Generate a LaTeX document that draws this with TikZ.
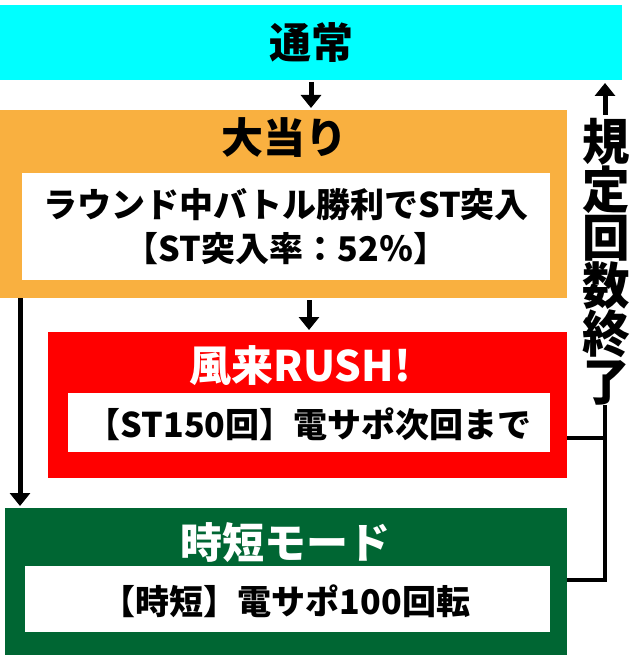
\documentclass[tikz,border=0pt]{standalone}
\usepackage{fontspec}
\setmainfont{Noto Sans CJK JP}
\usetikzlibrary{arrows.meta}
\definecolor{cy}{HTML}{00FFFF}
\definecolor{org}{HTML}{F9B040}
\definecolor{rd}{HTML}{FF0000}
\definecolor{gr}{HTML}{006633}
\begin{document}
\begin{tikzpicture}[x=1pt,y=-1pt,
  conn/.style={line width=5pt},
  arr/.style={conn,-{Triangle[length=13pt,width=20pt]}},
  ttl/.style={font=\bfseries\fontsize{42}{46}\selectfont,inner sep=0pt},
  txt/.style={font=\bfseries\fontsize{34}{44}\selectfont,align=center,inner sep=0pt}]
\useasboundingbox (0,0) rectangle (640,668);
\fill[cy] (0,5) rectangle (622,80);
\node[ttl] (t1) at (311,43) {通常};
\fill[org] (0,110) rectangle (567,298);
\fill[white] (22,173) rectangle (550,280);
\node[ttl] (t2) at (284,138) {大当り};
\node[txt] (x2) at (286,227) {ラウンド中バトル勝利でST突入\\【ST突入率：52％】};
\fill[rd] (48,332) rectangle (567,478);
\fill[white] (68,393) rectangle (550,452);
\node[ttl,white] (t3) at (300,366) {風来RUSH!};
\node[txt] (x3) at (309,424) {【ST150回】電サポ次回まで};
\fill[gr] (5,508) rectangle (567,655);
\fill[white] (25,566) rectangle (550,632);
\node[ttl,white] (t4) at (285,543) {時短モード};
\node[txt] (x4) at (286,601) {【時短】電サポ100回転};
\coordinate (a1) at (311,82); \coordinate (b1) at (311,108);
\draw[arr] (a1) -- (b1);
\coordinate (a2) at (309,300); \coordinate (b2) at (309,330);
\draw[arr] (a2) -- (b2);
\coordinate (a3) at (20,298); \coordinate (b3) at (20,506);
\draw[arr] (a3) -- (b3);
\coordinate (r1) at (567,438); \coordinate (r2) at (567,580);
\coordinate (v1) at (605,438); \coordinate (v2) at (605,580);
\coordinate (vt) at (605,405); \coordinate (up) at (605,83); \coordinate (us) at (605,115);
\draw[line width=4pt] (r1) -- (v1);
\draw[line width=4pt] (r2) -- (v2) -- (vt);
\draw[arr] (us) -- (up);
\node[font=\bfseries\fontsize{50}{48}\selectfont,align=center,inner sep=0pt,xscale=0.95] (lab) at (606,262) {規\\定\\回\\数\\終\\了};
\end{tikzpicture}
\end{document}
